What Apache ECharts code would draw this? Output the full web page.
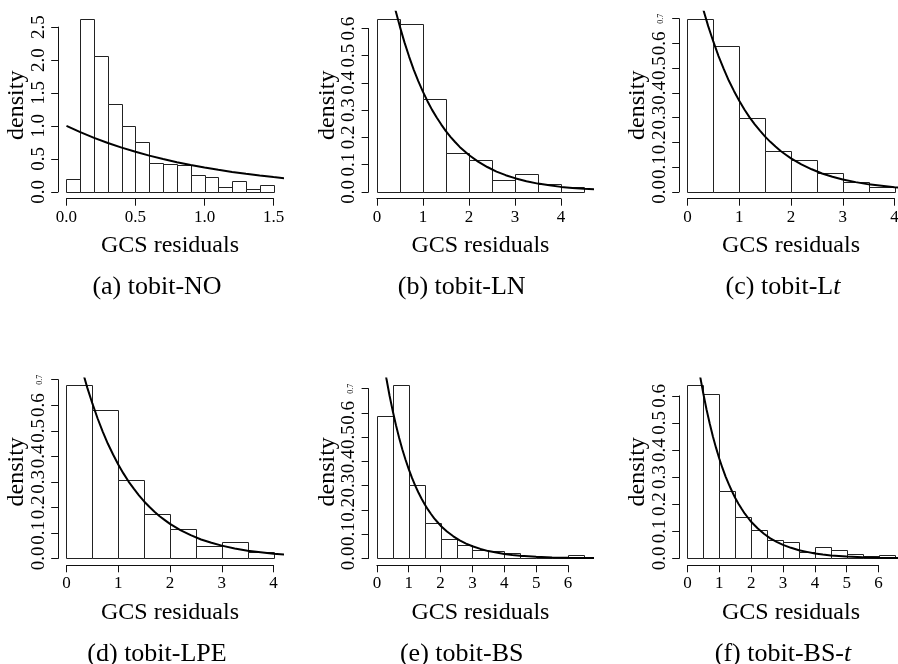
<!DOCTYPE html>
<html>
<head>
<meta charset="utf-8">
<script src="https://cdn.jsdelivr.net/npm/echarts@6/dist/echarts.min.js"></script>
<style>html,body{margin:0;padding:0;background:#fff}#c{width:898px;height:664px}</style>
</head>
<body>
<div id="c"></div>
<script>
// ---------------- data ----------------
const breaksA = [0,0.1,0.2,0.3,0.4,0.5,0.6,0.7,0.8,0.9,1.0,1.1,1.2,1.3,1.4,1.5];
const densA   = [0.188,2.627,2.054,1.334,1.004,0.761,0.430,0.425,0.405,0.254,0.219,0.067,0.158,0.036,0.097];
const breaksB = [0,0.5,1,1.5,2,2.5,3,3.5,4,4.5];
const densB   = [0.636,0.618,0.340,0.141,0.116,0.043,0.067,0.027,0.018];
const breaksC = [0,0.5,1,1.5,2,2.5,3,3.5,4];
const densC   = [0.700,0.591,0.300,0.166,0.129,0.074,0.038,0.020];
const breaksD = [0,0.5,1,1.5,2,2.5,3,3.5,4];
const densD   = [0.678,0.581,0.308,0.175,0.115,0.048,0.065,0.025];
const breaksE = [0,0.5,1,1.5,2,2.5,3,3.5,4,4.5,5,5.5,6,6.5];
const densE   = [0.588,0.714,0.303,0.146,0.079,0.057,0.033,0.030,0.024,0.011,0.007,0.005,0.014];
const breaksF = [0,0.5,1,1.5,2,2.5,3,3.5,4,4.5,5,5.5,6,6.5];
const densF   = [0.639,0.608,0.250,0.153,0.103,0.069,0.062,0.022,0.043,0.032,0.015,0.007,0.0135];

// fitted density curve (same in every panel)
const curveX = [0,0.1,0.2,0.3,0.4,0.5,0.6,0.7,0.8,0.9,1.0,1.1,1.2,1.3,1.4,1.5,1.6,1.7,1.8,1.9,2.0,2.2,2.4,2.6,2.8,3.0,3.25,3.5,3.75,4.0,4.25,4.5,4.75,5.0,5.5,6.0,6.5,7.0];
const curveY = [1.000,0.905,0.819,0.741,0.670,0.607,0.549,0.497,0.449,0.407,0.368,0.333,0.301,0.273,0.247,0.223,0.202,0.183,0.165,0.150,0.135,0.111,0.091,0.074,0.061,0.050,0.039,0.030,0.024,0.018,0.014,0.011,0.009,0.007,0.004,0.0025,0.0015,0.0009];

// tick labels
const xTicksA = ['0.0','0.5','1.0','1.5'];
const yTicksA = ['0.0','0.5','1.0','1.5','2.0','2.5'];
const xTicks4 = ['0','1','2','3','4'];
const xTicks6 = ['0','1','2','3','4','5','6'];
const yTicks06 = ['0.0','0.1','0.2','0.3','0.4','0.5','0.6'];
const yTicks07 = ['0.0','0.1','0.2','0.3','0.4','0.5','0.6','0.7'];
const smallTickLabels = ['0.7'];

const captions = ['(a) tobit-NO','(b) tobit-LN','(c) tobit-L{it|t}','(d) tobit-LPE','(e) tobit-BS','(f) tobit-BS-{it|t}'];
const xName = 'GCS residuals';
const yName = 'density';

// ---------------- layout ----------------
const FONT = "'Liberation Serif','Times New Roman',serif";
const panels = [
  {breaks: breaksA, dens: densA, xt: xTicksA, yt: yTicksA},
  {breaks: breaksB, dens: densB, xt: xTicks4, yt: yTicks06},
  {breaks: breaksC, dens: densC, xt: xTicks4, yt: yTicks07},
  {breaks: breaksD, dens: densD, xt: xTicks4, yt: yTicks07},
  {breaks: breaksE, dens: densE, xt: xTicks6, yt: yTicks07},
  {breaks: breaksF, dens: densF, xt: xTicks6, yt: yTicks06}
];
const plotLefts = [58.2, 368.6, 679.2];
const rowTops = [11.8, 378.4];
const plotW = 223.6, plotH = 186.9;
const capX = [157, 461.7, 783];
const capY = [287.3, 654];

const grids = [], xAxes = [], yAxes = [], series = [], graphics = [];
const axisCol = '#111';

panels.forEach((p, i) => {
  const col = i % 3, row = Math.floor(i / 3);
  const left = plotLefts[col], top = rowTops[row];
  const x0 = p.breaks[0], x1 = p.breaks[p.breaks.length - 1];
  const ymax = Math.max.apply(null, p.dens);
  const xlo = x0 - 0.04 * (x1 - x0), xhi = x1 + 0.04 * (x1 - x0);
  const ylo = -0.04 * ymax, yhi = 1.04 * ymax;
  const sx = plotW / (xhi - xlo), sy = plotH / (yhi - ylo);
  const xt0 = parseFloat(p.xt[0]), xt1 = parseFloat(p.xt[p.xt.length - 1]);
  const xint = parseFloat(p.xt[1]) - xt0;
  const yt0 = parseFloat(p.yt[0]), yt1 = parseFloat(p.yt[p.yt.length - 1]);
  const yint = parseFloat(p.yt[1]) - yt0;

  // plot-region grid (data)
  grids.push({left: left, top: top, width: plotW, height: plotH, outerBoundsMode: 'none', containLabel: false});
  // axis-frame grid (tick range only, like R)
  const gL = left + (xt0 - xlo) * sx, gW = (xt1 - xt0) * sx;
  const gT = top + (yhi - yt1) * sy, gH = (yt1 - yt0) * sy;
  grids.push({left: gL, top: gT, width: gW, height: gH, outerBoundsMode: 'none', containLabel: false});
  const xOff = (top + plotH) - (gT + gH);
  const yOff = gL - left;

  const gA = 2 * i, gB = 2 * i + 1;
  xAxes.push({
    type: 'value', gridIndex: gA, min: xlo, max: xhi,
    axisLine: {show: false}, axisTick: {show: false}, axisLabel: {show: false}, splitLine: {show: false},
    name: xName, nameLocation: 'middle', nameGap: 35,
    nameTextStyle: {fontFamily: FONT, fontSize: 24, color: '#000'}
  });
  yAxes.push({
    type: 'value', gridIndex: gA, min: ylo, max: yhi,
    axisLine: {show: false}, axisTick: {show: false}, axisLabel: {show: false}, splitLine: {show: false},
    name: yName, nameLocation: 'middle', nameGap: 29, nameRotate: 90,
    nameTextStyle: {fontFamily: FONT, fontSize: 24, color: '#000'}
  });
  xAxes.push({
    type: 'value', gridIndex: gB, min: xt0, max: xt1, interval: xint, offset: xOff,
    axisLine: {show: true, onZero: false, lineStyle: {color: axisCol, width: 1}},
    axisTick: {show: true, length: 7, lineStyle: {color: axisCol, width: 1}},
    splitLine: {show: false},
    axisLabel: {
      show: true, margin: 10, color: '#000', fontFamily: FONT, fontSize: 17, hideOverlap: false,
      showMinLabel: true, showMaxLabel: true,
      formatter: (v) => { const k = Math.round((v - xt0) / xint); return p.xt[k] !== undefined ? p.xt[k] : ''; }
    }
  });
  yAxes.push({
    type: 'value', gridIndex: gB, min: yt0, max: yt1, interval: yint, offset: yOff,
    axisLine: {show: true, onZero: false, lineStyle: {color: axisCol, width: 1}},
    axisTick: {show: true, length: 7, lineStyle: {color: axisCol, width: 1}},
    splitLine: {show: false},
    axisLabel: {
      show: true, margin: 10, rotate: 90, color: '#000', fontFamily: FONT, fontSize: 19, hideOverlap: false,
      showMinLabel: true, showMaxLabel: true,
      formatter: (v) => {
        const k = Math.round((v - yt0) / yint);
        const s = p.yt[k] !== undefined ? p.yt[k] : '';
        return smallTickLabels.indexOf(s) >= 0 ? '{s|' + s + '}' : s;
      },
      rich: {s: {fontSize: 8, fontFamily: FONT, color: '#000', padding: [0, 0, 4, 0]}}
    }
  });

  const histData = p.dens.map((d, k) => [p.breaks[k], p.breaks[k + 1], d]);
  series.push({
    type: 'custom', xAxisIndex: gA, yAxisIndex: gA, data: histData, silent: true,
    encode: {x: [0, 1], y: 2},
    renderItem: (params, api) => {
      const a = api.coord([api.value(0), 0]);
      const b = api.coord([api.value(1), api.value(2)]);
      return {
        type: 'rect',
        shape: {x: Math.round(a[0]) + 0.5, y: Math.round(b[1]) + 0.5, width: Math.round(b[0]) - Math.round(a[0]), height: Math.round(a[1]) - Math.round(b[1])},
        style: {fill: '#fff', stroke: '#222', lineWidth: 1}
      };
    }
  });
  series.push({
    type: 'line', xAxisIndex: gA, yAxisIndex: gA, silent: true,
    data: curveX.map((x, k) => [x, curveY[k]]),
    smooth: false, showSymbol: false, symbol: 'none', clip: true,
    lineStyle: {color: '#000', width: 2}, z: 5
  });

  graphics.push({
    type: 'text', x: capX[col], y: capY[row],
    style: {
      text: captions[i], fontFamily: FONT, fontSize: 26, fill: '#000',
      align: 'center', verticalAlign: 'middle',
      rich: {it: {fontStyle: 'italic', fontFamily: FONT, fontSize: 26, fill: '#000'}}
    }
  });
});

const chart = echarts.init(document.getElementById('c'), null, {renderer: 'canvas'});
chart.setOption({
  animation: false,
  backgroundColor: '#fff',
  grid: grids, xAxis: xAxes, yAxis: yAxes, series: series,
  graphic: graphics
});
</script>
</body>
</html>
